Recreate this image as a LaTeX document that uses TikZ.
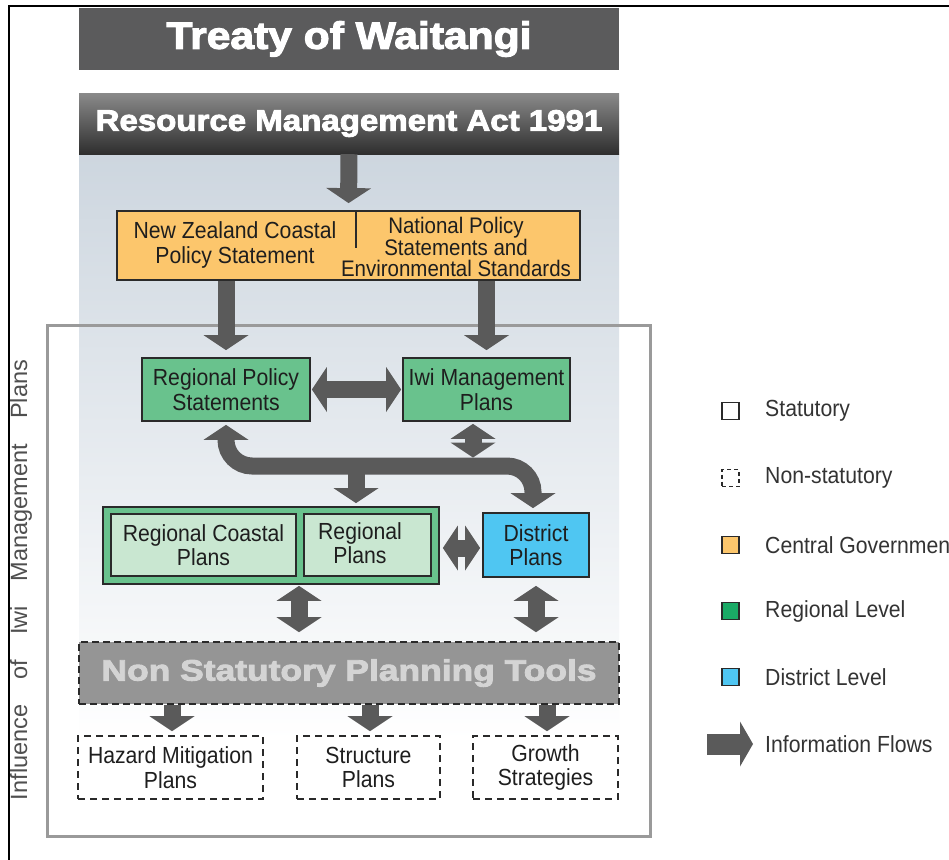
\documentclass[tikz,border=0pt]{standalone}
\usepackage{fontspec}
\setmainfont{Liberation Sans}
\newfontfamily\boxfont[FakeStretch=0.91]{Liberation Sans}
\newfontfamily\titlefont[FakeStretch=1.12,FakeBold=3]{Liberation Sans Bold}
\newfontfamily\nsptfont[FakeStretch=1.2,FakeBold=3]{Liberation Sans Bold}
\usetikzlibrary{arrows.meta}
\definecolor{darkbox}{HTML}{5B5B5C}
\definecolor{rmaTop}{HTML}{8A8A8A}
\definecolor{rmaMid}{HTML}{5E5E5E}
\definecolor{rmaBot}{HTML}{2F2F2F}
\definecolor{panelTop}{HTML}{CDD6DF}
\definecolor{framegray}{HTML}{9A9A9A}
\definecolor{orangefill}{HTML}{FCC66C}
\definecolor{greenfill}{HTML}{69C28D}
\definecolor{lightgreen}{HTML}{C9E7D1}
\definecolor{bluefill}{HTML}{4FC6F2}
\definecolor{arrowgray}{HTML}{5A5A5A}
\definecolor{nsptfill}{HTML}{959595}
\definecolor{nspttext}{HTML}{D4D4D4}
\definecolor{boxborder}{HTML}{2A2A2A}
\definecolor{textdark}{HTML}{1E1E1E}
\definecolor{legtext}{HTML}{333333}
\definecolor{leggreen}{HTML}{1AAA66}
\definecolor{vtext}{HTML}{4F4F4F}
\tikzset{
  solidbox/.style={draw=boxborder, line width=1.8pt, rectangle, inner sep=0pt, align=center, text=textdark, font=\boxfont\fontsize{23.3}{24.5}\selectfont},
  dashbox/.style={draw=boxborder, line width=1.6pt, dash pattern=on 7pt off 5pt, rectangle, inner sep=0pt, align=center, fill=white, text=textdark, font=\boxfont\fontsize{23.3}{24.5}\selectfont},
  flow/.style={draw=arrowgray, line width=17pt, arrows={-Triangle[width=45pt,length=15pt,line width=0pt]}},
  biflow/.style={draw=arrowgray, line width=17pt, arrows={Triangle[width=45pt,length=15pt,line width=0pt]-Triangle[width=45pt,length=15pt,line width=0pt]}},
  legsq/.style={draw=boxborder, line width=1.2pt, minimum width=17pt, minimum height=17pt, inner sep=0pt},
  legtxt/.style={anchor=west, text=legtext, font=\boxfont\fontsize{23.3}{26}\selectfont, inner sep=0pt},
}
\begin{document}
\begin{tikzpicture}[x=1pt,y=-1pt]
\clip (0,0) rectangle (949,859);
\fill[white] (0,0) rectangle (949,859);
% outer black border
\draw[black, line width=2.2pt] (9,870) -- (9,6) -- (960,6);
% background panel
\shade[top color=panelTop, bottom color=white] (79,154) rectangle (619,740);
% frame
\draw[framegray, line width=3pt] (47,325) rectangle (650,836);
% title boxes
\node[fill=darkbox, minimum width=540pt, minimum height=61pt, inner sep=0pt, text=white, font=\titlefont\fontsize{38}{40}\selectfont] (treaty) at (349,39) {Treaty of Waitangi};
\shade[top color=rmaTop, middle color=rmaMid, bottom color=rmaBot] (79,93) rectangle (619,154);
\node[minimum width=540pt, minimum height=61pt, inner sep=0pt, text=white, font=\titlefont\fontsize{29.5}{32}\selectfont] (rma) at (349,123.5) {Resource Management Act 1991};
% central government
\node[solidbox, fill=orangefill, minimum width=463pt, minimum height=69pt] (cg) at (348.5,245.5) {};
\draw[boxborder, line width=1.6pt] (356,212) -- (356,248);
\node[align=center, text=textdark, font=\boxfont\fontsize{23.3}{24.5}\selectfont, inner sep=0pt] (nzcps) at (235,245) {New Zealand Coastal\\Policy Statement};
\node[align=center, text=textdark, font=\boxfont\fontsize{22.5}{20.5}\selectfont, inner sep=0pt] (nps) at (456,247) {National Policy\\Statements and\\Environmental Standards};
% regional level
\node[solidbox, fill=greenfill, minimum width=168pt, minimum height=63pt] (rps) at (226,389.5) {Regional Policy\\Statements};
\node[solidbox, fill=greenfill, minimum width=167pt, minimum height=63pt] (iwi) at (486.5,389.5) {Iwi Management\\Plans};
\node[solidbox, fill=greenfill, minimum width=336pt, minimum height=77pt] (regional) at (271,545.5) {};
\node[solidbox, fill=lightgreen, line width=1.5pt, minimum width=185pt, minimum height=62pt] (rcp) at (203.5,545) {Regional Coastal\\Plans};
\node[solidbox, fill=lightgreen, line width=1.5pt, minimum width=127pt, minimum height=62pt] (rp) at (367.5,545) {};
\node[align=center, text=textdark, font=\boxfont\fontsize{23.3}{24.5}\selectfont, inner sep=0pt] (rptext) at (360,543) {Regional\\Plans};
\node[solidbox, fill=bluefill, minimum width=106pt, minimum height=64pt] (district) at (536,545) {District\\Plans};
% non statutory
\node[draw=boxborder, line width=1.6pt, dash pattern=on 7pt off 4pt, fill=nsptfill, minimum width=540pt, minimum height=62pt, inner sep=0pt, text=nspttext, font=\nsptfont\fontsize{29.5}{32}\selectfont] (nspt) at (349,673) {Non Statutory Planning Tools};
\node[dashbox, minimum width=185pt, minimum height=63pt] (hazard) at (170.5,767.5) {Hazard Mitigation\\Plans};
\node[dashbox, minimum width=143pt, minimum height=63pt] (structure) at (368.5,767.5) {Structure\\Plans};
\node[dashbox, minimum width=145pt, minimum height=63pt] (growth) at (545.5,767.5) {Growth\\Strategies};
% vertical label
\node[rotate=90, text=vtext, font=\fontsize{23.5}{26}\selectfont, inner sep=0pt] (influence) at (21,580) {\hbox to 440pt{Influence\hfill of\hfill Iwi\hfill Management\hfill Plans}};
% coordinates for the shared bar
\coordinate (barL) at (226,466);
\coordinate (barM) at (356,466);
\coordinate (barR) at (533,466);
% information flows
\draw[flow, shorten >=7pt] (rma.south) -- (cg.north);
\draw[flow, shorten >=7pt] (rps.north |- cg.south) -- (rps.north);
\draw[flow, shorten >=7pt] (iwi.north |- cg.south) -- (iwi.north);
\draw[biflow, shorten <=1pt, shorten >=1pt] (rps.east) -- (iwi.west);
\draw[biflow, shorten <=2pt, shorten >=8.5pt] ([xshift=-13.5pt]iwi.south) -- ([xshift=-13.5pt]iwi.south |- barL);
\draw[biflow, rounded corners=26pt, shorten <=3pt, shorten >=4pt] (rps.south) -- (barL) -- (barR) -- (barR |- district.north);
\draw[flow, shorten >=3pt] (barM) -- (barM |- regional.north);
\draw[biflow, shorten <=3pt, shorten >=2pt] ([yshift=-2.5pt]regional.east) -- ([yshift=-2.5pt]regional.east -| district.west);
\draw[biflow, shorten <=1pt, shorten >=9pt] ([xshift=28pt]regional.south) -- ([xshift=28pt]regional.south |- nspt.north);
\draw[biflow, shorten <=8pt, shorten >=9pt] (district.south) -- (district.south |- nspt.north);
\draw[flow, shorten >=4pt] ([xshift=1.5pt]nspt.south -| hazard.north) -- ([xshift=1.5pt]hazard.north);
\draw[flow, shorten >=4pt] ([xshift=1.5pt]nspt.south -| structure.north) -- ([xshift=1.5pt]structure.north);
\draw[flow, shorten >=4pt] ([xshift=1.5pt]nspt.south -| growth.north) -- ([xshift=1.5pt]growth.north);
% legend
\node[legsq, fill=white] (l1) at (730.5,411) {};
\node[legsq, fill=white, line width=1.1pt, dash pattern=on 4pt off 3pt] (l2) at (730.5,478) {};
\node[legsq, fill=orangefill] (l3) at (730.5,545) {};
\node[legsq, fill=leggreen] (l4) at (730.5,611) {};
\node[legsq, fill=bluefill] (l5) at (730.5,677) {};
\coordinate (la) at (707,744);
\coordinate (lb) at (753,744);
\draw[draw=arrowgray, line width=21pt, arrows={-Triangle[width=45pt,length=13pt,line width=0pt]}] (la) -- (lb);
\node[legtxt] (t1) at (765,411) {Statutory};
\node[legtxt] (t2) at (765,478) {Non-statutory};
\node[legtxt] (t3) at (765,545) {Central Government};
\node[legtxt] (t4) at (765,611) {Regional Level};
\node[legtxt] (t5) at (765,677) {District Level};
\node[legtxt] (t6) at (765,744) {Information Flows};
\end{tikzpicture}
\end{document}
